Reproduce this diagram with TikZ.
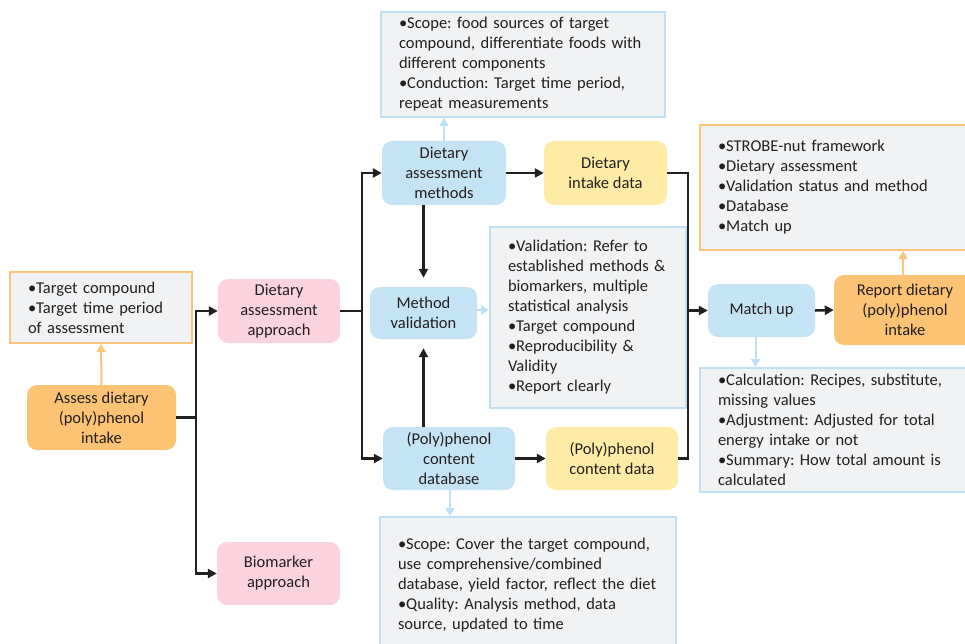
\documentclass[tikz,border=0pt]{standalone}
\usepackage{fontspec}
\setmainfont{Carlito}
\usetikzlibrary{arrows.meta}
\definecolor{txt}{HTML}{231F20}
\definecolor{orfill}{HTML}{FBC373}
\definecolor{orline}{HTML}{FAC67C}
\definecolor{pinkfill}{HTML}{FAD3DE}
\definecolor{bluefill}{HTML}{C4E4F6}
\definecolor{yelfill}{HTML}{FEECA6}
\definecolor{notefill}{HTML}{F1F2F4}
\definecolor{lbline}{HTML}{BEE1F5}
\tikzset{
  base/.style={text=txt, font=\fontsize{16.5}{20}\selectfont\frenchspacing},
  proc/.style={base, rounded corners=10pt, align=center, inner sep=0pt},
  orangebox/.style={proc, fill=orfill},
  pinkbox/.style={proc, fill=pinkfill},
  bluebox/.style={proc, fill=bluefill},
  yelbox/.style={proc, fill=yelfill},
  note/.style={base, fill=notefill, line width=2pt, align=left, inner xsep=18pt, inner ysep=0pt},
  onote/.style={note, draw=orline},
  bnote/.style={note, draw=lbline},
  blk/.style={draw=txt, line width=2.5pt},
  blkarr/.style={blk, -{Triangle[length=9pt,width=9pt]}},
  orarr/.style={draw=orline, line width=2pt, -{Triangle[length=8pt,width=9pt]}},
  lbarr/.style={draw=lbline, line width=2pt, -{Triangle[length=8pt,width=9pt]}},
}
\begin{document}
\begin{tikzpicture}[x=1pt,y=-1pt]
\useasboundingbox (0,0) rectangle (965,644);
\clip (0,0) rectangle (965,644);
\fill[white] (0,0) rectangle (965,644);

% process nodes
\node[orangebox, minimum width=149pt, minimum height=65pt] (assess) at (101.5,417.5) {Assess dietary\\(poly)phenol\\intake};
\node[pinkbox, minimum width=122pt, minimum height=64pt] (daa) at (279,311) {Dietary\\assessment\\approach};
\node[pinkbox, minimum width=123pt, minimum height=63pt] (bio) at (278.5,573.5) {Biomarker\\approach};
\node[bluebox, minimum width=124pt, minimum height=64pt] (dam) at (444,173) {Dietary\\assessment\\methods};
\node[yelbox, minimum width=123pt, minimum height=64pt] (did) at (605.5,173) {Dietary\\intake data};
\node[bluebox, minimum width=107pt, minimum height=52pt] (mv) at (423.5,313) {Method\\validation};
\node[bluebox, minimum width=132pt, minimum height=63pt] (pcd) at (449,458.5) {(Poly)phenol\\content\\database};
\node[yelbox, minimum width=132pt, minimum height=63pt] (pcdata) at (612,458.5) {(Poly)phenol\\content data};
\node[bluebox, minimum width=107pt, minimum height=53pt] (match) at (761.5,310.5) {Match up};
\node[orangebox, minimum width=142pt, minimum height=70pt] (report) at (905,310) {Report dietary\\(poly)phenol\\intake};

% notes
\node[onote, text width=146pt, minimum height=71pt] (leftnote) at (101,307.5)
  {•Target compound\\•Target time period\\of assessment};
\node[bnote, text width=248pt, minimum height=105pt] (topnote) at (523,64.5)
  {•Scope: food sources of target\\compound, differentiate foods with\\different components\\•Conduction: Target time period,\\repeat measurements};
\node[bnote, text width=160pt, minimum height=181pt] (valnote) at (588,317.5)
  {•Validation: Refer to\\established methods \&\\biomarkers, multiple\\statistical analysis\\•Target compound\\•Reproducibility \&\\Validity\\•Report clearly};
\node[onote, text width=254pt, minimum height=125pt] (trnote) at (845,187.5)
  {•STROBE-nut framework\\•Dietary assessment\\•Validation status and method\\•Database\\•Match up};
\node[bnote, text width=254pt, minimum height=124pt] (brnote) at (845,430)
  {•Calculation: Recipes, substitute,\\missing values\\•Adjustment: Adjusted for total\\energy intake or not\\•Summary: How total amount is\\calculated};
\node[bnote, text width=260pt, minimum height=136pt] (botnote) at (528,585)
  {•Scope: Cover the target compound,\\use comprehensive/combined\\database, yield factor, reflect the diet\\•Quality: Analysis method, data\\source, updated to time};

% junctions
\coordinate (j1) at (196,417.5);
\coordinate (j2) at (362,311);
\coordinate (j3) at (688,310.5);

% black connectors
\draw[blk] (assess.east) -- (j1);
\draw[blkarr] (j1) |- (daa.west);
\draw[blkarr] (j1) |- (bio.west);
\draw[blk] (daa.east) -- (j2);
\draw[blkarr] (j2) |- (dam.west);
\draw[blkarr] (j2) |- (pcd.west);
\draw[blkarr] (dam.east) -- (did.west);
\draw[blkarr, shorten >=9pt] (mv.north |- dam.south) -- (mv.north);
\draw[blkarr, shorten >=9pt] (mv.south |- pcd.north) -- (mv.south);
\draw[blkarr] (pcd.east) -- (pcdata.west);
\draw[blk] (did.east) -| (j3);
\draw[blk] (pcdata.east) -| (j3);
\draw[blkarr] (j3) -- (match.west);
\draw[blkarr] (match.east) -- (report.west);

% coloured connectors
\draw[orarr] (assess.north) -- (leftnote.south);
\draw[orarr] ([xshift=-2pt]report.north) -- ([xshift=-2pt]report.north |- trnote.south);
\draw[lbarr] (dam.north) -- (dam.north |- topnote.south);
\draw[lbarr] ([yshift=3pt]mv.east) -- ([yshift=3pt]mv.east -| valnote.west);
\draw[lbarr] ([xshift=-6pt]match.south) -- ([xshift=-6pt]match.south |- brnote.north);
\draw[lbarr] ([xshift=1pt]pcd.south) -- ([xshift=1pt]pcd.south |- botnote.north);
\end{tikzpicture}
\end{document}
